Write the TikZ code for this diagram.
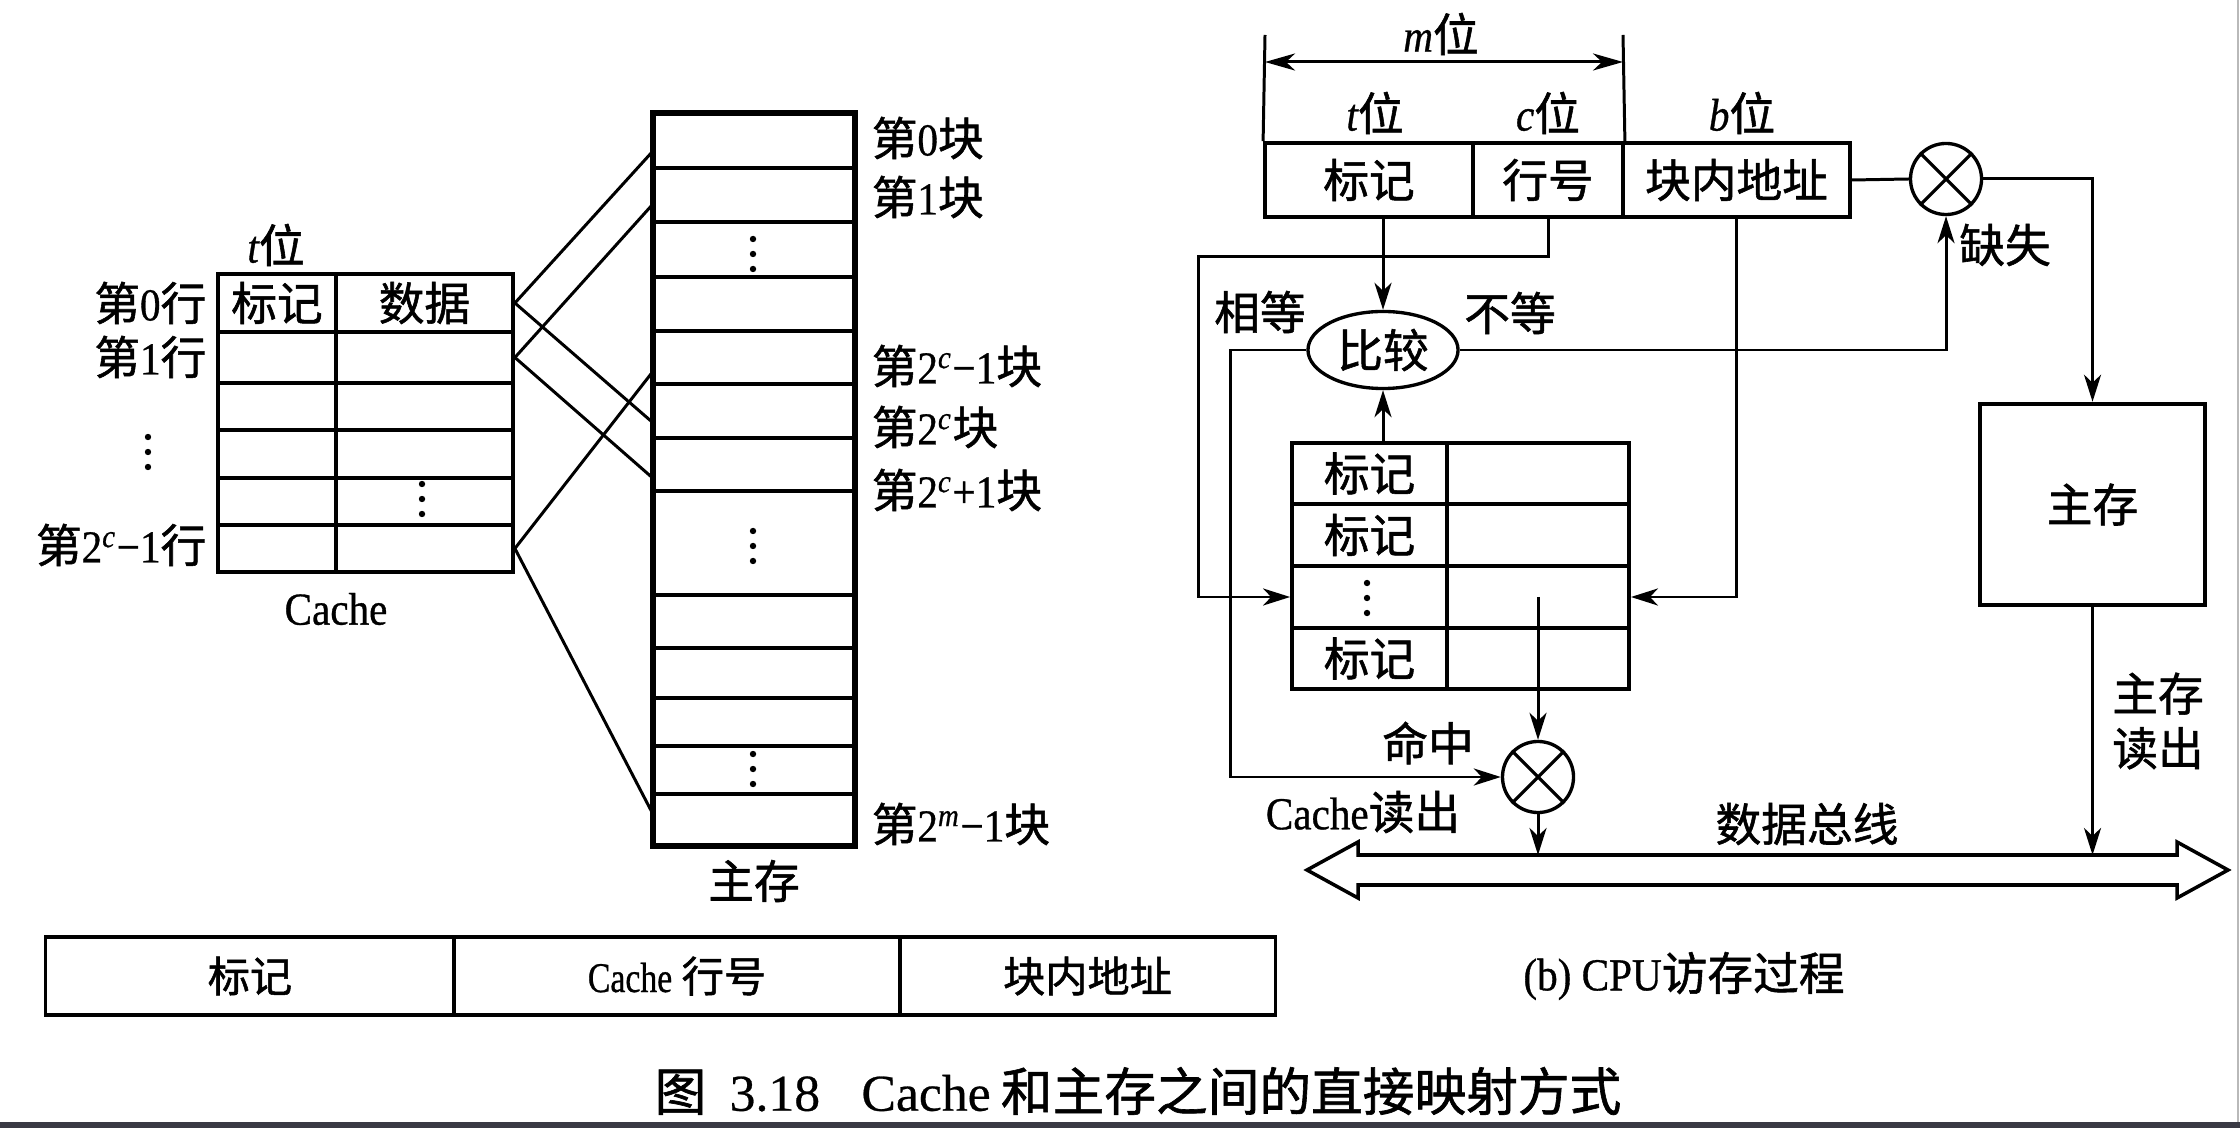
\documentclass[tikz,border=0pt]{standalone}
\usepackage{fontspec}
\setmainfont[FakeBold=0.5]{Liberation Serif}
\newfontfamily\cjk[FakeBold=1.2]{Noto Sans CJK SC}
\newfontfamily\latn[FakeStretch=0.9,FakeBold=0.7]{Liberation Serif}
\newfontfamily\latc[FakeStretch=0.8,FakeBold=0.7]{Liberation Serif}
\usetikzlibrary{shapes.geometric,arrows.meta,calc}
\newcommand\fs{\fontsize{13pt}{15.5pt}\selectfont\cjk}
\definecolor{barc}{RGB}{58,58,68}
\tikzset{
  lbl/.style={font=\fs,inner sep=0pt},
  cell/.style={draw,line width=1.05pt,inner sep=0pt,font=\fs},
  con/.style={line width=0.85pt},
  arr/.style={line width=0.85pt,-{Stealth[length=2.7mm,width=1.7mm,inset=0.8mm]}},
  dblarr/.style={line width=0.85pt,{Stealth[length=3mm,width=1.7mm,inset=0.9mm]}-{Stealth[length=3mm,width=1.7mm,inset=0.9mm]}},
  xcirc/.style={draw,circle,line width=0.95pt,minimum size=0.71cm,inner sep=0pt},
  vdts/.pic={\foreach \yy in {-15,0,15} \fill (0,\yy) circle (0.032cm);}
}
\begin{document}
\begin{tikzpicture}[x=0.01cm,y=-0.01cm]
\useasboundingbox (0,0) rectangle (2240,1128);
\fill[white] (0,0) rectangle (2240,1128);
\fill[barc] (0,1122) rectangle (2240,1128);
\draw[gray!55,line width=0.6pt] (2238,0) -- (2238,1122);

% ---------- Cache (left) ----------
\node[lbl] (tbit) at (276,245) {{\latn\itshape t}位};
\node[cell,minimum width=1.18cm,minimum height=0.58cm] (ct0) at (277,303) {标记};
\node[cell,minimum width=1.77cm,minimum height=0.58cm] (cd0) at (424.5,303) {数据};
\foreach \i/\c/\h in {1/357.5/0.51cm,2/406.5/0.47cm,3/454/0.48cm,4/501.5/0.47cm,5/548.5/0.47cm}{
  \node[cell,minimum width=1.18cm,minimum height=\h] (ct\i) at (277,\c) {};
  \node[cell,minimum width=1.77cm,minimum height=\h] (cd\i) at (424.5,\c) {};
}
\node[lbl,anchor=east] (r0l) at (207,303) {第{\latn 0}行};
\node[lbl,anchor=east] (r1l) at (207,357) {第{\latn 1}行};
\node[lbl,anchor=east] (r5l) at (207,545) {第{\latn 2\textsuperscript{\itshape c}−1}行};
\pic at (148,452) {vdts};
\pic at (422,499) {vdts};
\node[lbl] (cachel) at (336,609) {\latn Cache};

% ---------- Main memory (left) ----------
\foreach \i/\c/\h in {0/141/0.54cm,1/195/0.54cm,2/249.5/0.55cm,3/304/0.54cm,4/357.5/0.53cm,5/411/0.54cm,6/464.5/0.53cm,7/543/1.04cm,8/621.5/0.53cm,9/673/0.50cm,10/722/0.48cm,11/770/0.48cm,12/819.5/0.51cm}{
  \node[cell,minimum width=2cm,minimum height=\h] (m\i) at (754,\c) {};
}
\draw[line width=1.3pt] (m0.north west) rectangle (m12.south east);
\pic at (753,254) {vdts};
\pic at (753,546) {vdts};
\pic at (753,769) {vdts};
\node[lbl,anchor=west] (b0) at (871,138) {第{\latn 0}块};
\node[lbl,anchor=west] (b1) at (871,197) {第{\latn 1}块};
\node[lbl,anchor=west] (b2) at (871,366) {第{\latn 2\textsuperscript{\itshape c}−1}块};
\node[lbl,anchor=west] (b3) at (871,427) {第{\latn 2\textsuperscript{\itshape c}}块};
\node[lbl,anchor=west] (b4) at (871,490) {第{\latn 2\textsuperscript{\itshape c}+1}块};
\node[lbl,anchor=west] (b5) at (871,824) {第{\latn 2\textsuperscript{\itshape m}−1}块};
\node[lbl] (mml) at (754,881) {主存};

\draw[con] (cd0.east) -- ($(m0.west)+(0,11)$);
\draw[con] (cd1.east) -- ($(m1.west)+(0,10)$);
\draw[con] (cd0.east) -- ($(m5.west)+(0,11)$);
\draw[con] (cd1.east) -- ($(m6.west)+(0,13)$);
\draw[con] (cd5.east) -- ($(m4.west)+(0,15)$);
\draw[con] (cd5.east) -- ($(m12.west)+(0,-7)$);

% ---------- address format (bottom) ----------
\node[cell,line width=0.9pt,minimum width=4.08cm,minimum height=0.78cm,font=\fontsize{12pt}{14pt}\selectfont\cjk] (f1) at (250,976) {标记};
\node[cell,line width=0.9pt,minimum width=4.46cm,minimum height=0.78cm,font=\fontsize{12pt}{14pt}\selectfont\cjk] (f2) at (677,976) {{\latc Cache} 行号};
\node[cell,line width=0.9pt,minimum width=3.75cm,minimum height=0.78cm,font=\fontsize{12pt}{14pt}\selectfont\cjk] (f3) at (1087.5,976) {块内地址};

% ---------- (b) CPU access ----------
\node[cell,minimum width=2.08cm,minimum height=0.74cm] (a1) at (1369,180) {标记};
\node[cell,minimum width=1.50cm,minimum height=0.74cm] (a2) at (1548,180) {行号};
\node[cell,minimum width=2.27cm,minimum height=0.74cm] (a3) at (1736.5,180) {块内地址};
\node[lbl] (mbit) at (1441,34) {{\latn\itshape m}位};
\node[lbl] (tb2) at (1375,113) {{\latn\itshape t}位};
\node[lbl] (cb2) at (1548,113) {{\latn\itshape c}位};
\node[lbl] (bb2) at (1742,113) {{\latn\itshape b}位};
\coordinate (mL) at (1265,35);
\coordinate (mR) at (1623,35);
\coordinate (mA) at (1265,62);
\coordinate (mB) at (1623,62);
\draw[con] (mL) -- (a1.north west);
\draw[con] (mR) -- (a2.north east);
\draw[dblarr] (mA) -- (mB);

\node[draw,ellipse,line width=0.95pt,minimum width=1.5cm,minimum height=0.77cm,inner sep=0pt,font=\fs] (cmp) at (1383,350) {比较};
\node[lbl] (eq) at (1260,312) {相等};
\node[lbl] (neq) at (1510,313) {不等};

\foreach \i/\c/\h in {0/473.5/0.61cm,1/535/0.62cm,2/597/0.62cm,3/658.5/0.61cm}{
  \node[cell,minimum width=1.55cm,minimum height=\h] (tl\i) at (1369.5,\c) {};
  \node[cell,minimum width=1.82cm,minimum height=\h] (td\i) at (1538,\c) {};
}
\node[lbl] at (tl0) {标记};
\node[lbl] at (tl1) {标记};
\node[lbl] at (tl3) {标记};
\pic at (1367,598) {vdts};

\node[xcirc] (hit) at (1538,777) {};
\draw[line width=0.9pt] (hit.45) -- (hit.225) (hit.135) -- (hit.315);
\node[xcirc] (miss) at (1946,179) {};
\draw[line width=0.9pt] (miss.45) -- (miss.225) (miss.135) -- (miss.315);
\node[lbl] (hitl) at (1428,743) {命中};
\node[lbl] (crd) at (1363,812) {{\latn Cache}读出};
\node[lbl] (missl) at (2005,245) {缺失};

\node[cell,line width=1.25pt,minimum width=2.25cm,minimum height=2.01cm] (mm) at (2092.5,504.5) {主存};
\node[lbl,align=center] (mmrd) at (2158,721) {主存\\读出};

% bus
\draw[line width=1pt,fill=white] (1307,870) -- (1358,842) -- (1358,855) -- (2177,855) -- (2177,842) -- (2228,870) -- (2177,898) -- (2177,885) -- (1358,885) -- (1358,898) -- cycle;
\coordinate (bustop) at (1700,855);
\node[lbl] (busl) at (1807,824) {数据总线};

% connectors
\draw[arr] (cmp.north |- a1.south) -- (cmp.north);
\coordinate (k1) at (1198,257);
\draw[arr] (a2.south) |- (k1) |- (tl2.west);
\draw[arr] (a3.south) |- (td2.east);
\draw[arr] (cmp.south |- tl0.north) -- (cmp.south);
\coordinate (k2) at (1230,350);
\draw[arr] (cmp.west) -- (k2) |- (hit.west);
\draw[arr] (td2.center) -- (hit.north);
\draw[arr] (hit.south) -- (hit.south |- bustop);
\draw[arr] (cmp.east) -| (miss.south);
\draw[con] (a3.east) -- (miss.west);
\draw[arr] (miss.east) -| (mm.north);
\draw[arr] (mm.south) -- (mm.south |- bustop);

\node[font=\fs,inner sep=0pt] (subb) at (1684,976) {{\latn (b) CPU}访存过程};
\node[inner sep=0pt,font=\fontsize{14.7pt}{17pt}\selectfont] (cap) at (1138,1091) {{\cjk 图}\hspace{0.45em}3.18\hspace{0.8em}Cache\hspace{0.2em}{\cjk 和主存之间的直接映射方式}};
\end{tikzpicture}
\end{document}
